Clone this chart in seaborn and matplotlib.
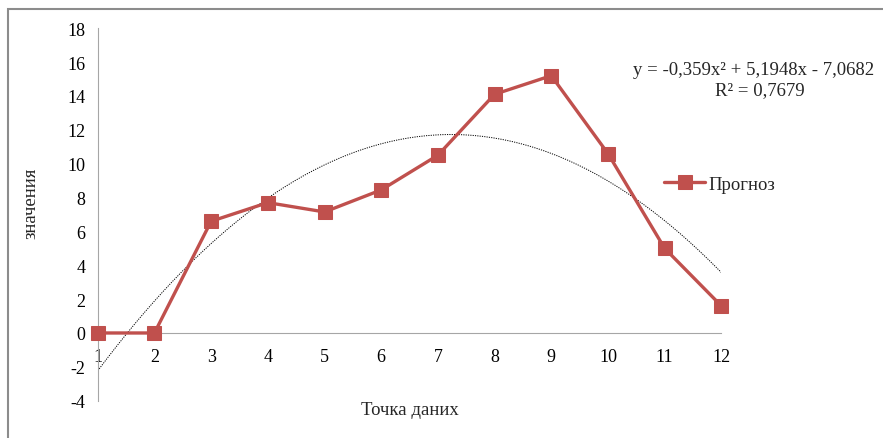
import matplotlib
matplotlib.use("Agg")
import matplotlib.pyplot as plt
from matplotlib.patches import Rectangle
import numpy as np
import pandas as pd
import seaborn as sns

points = [1, 2, 3, 4, 5, 6, 7, 8, 9, 10, 11, 12]
forecast = [0, 0, 6.6, 7.7, 7.15, 8.45, 10.5, 14.1, 15.2, 10.6, 5.0, 1.6]
trend_coef = [-0.359, 5.1948, -7.0682]  # quadratic trendline shown on the chart
y_ticks = [-4, -2, 0, 2, 4, 6, 8, 10, 12, 14, 16, 18]

red = "#C0504D"
axis_gray = "#A6A6A6"

sns.set_style("white")
plt.rcParams["font.family"] = ["Liberation Serif", "DejaVu Serif"]
plt.rcParams["axes.unicode_minus"] = False

df = pd.DataFrame({"x": points, "y": forecast})

fig = plt.figure(figsize=(8.83, 4.39), dpi=100)
ax = fig.add_axes([0.1107, 0.085, 0.7062, 0.8483])

# dotted polynomial trendline
xs = np.linspace(points[0], points[-1], 200)
ax.plot(xs, np.polyval(trend_coef, xs), color="black", lw=0.7, ls=(0, (1.2, 1.2)), zorder=2)

sns.lineplot(data=df, x="x", y="y", ax=ax, color=red, lw=2.4, marker="s",
             markersize=10.5, markeredgecolor=red, label="Прогноз", zorder=3,
             clip_on=False)

ax.set_xlim(1, 12)
ax.set_ylim(-4, 18)
ax.set_xticks(points)
ax.set_yticks(y_ticks)

for s in ["top", "right"]:
    ax.spines[s].set_visible(False)
ax.spines["bottom"].set_position(("data", 0))
ax.spines["bottom"].set_color(axis_gray)
ax.spines["left"].set_color(axis_gray)
ax.tick_params(axis="both", colors=axis_gray, labelcolor="black", labelsize=13,
               length=4, width=0.8, direction="out")
ax.tick_params(axis="x", pad=7)
ax.tick_params(axis="y", pad=5)

ax.set_xlabel("")
ax.set_ylabel("")
fig.text(410 / 883, 1 - 411 / 439, "Точка даних", ha="center", va="center", fontsize=13.5)
fig.text(31 / 883, 1 - 203 / 439, "значения", ha="center", va="center", rotation=90, fontsize=13.5)

fig.text(633 / 883, 1 - 71 / 439, "y = -0,359x² + 5,1948x - 7,0682", ha="left", va="center", fontsize=13.5)
fig.text(760 / 883, 1 - 91 / 439, "R² = 0,7679", ha="center", va="center", fontsize=13.5)

ax.legend(loc="center left", bbox_to_anchor=(664 / 883, 1 - 185 / 439),
          bbox_transform=fig.transFigure, frameon=False, fontsize=13.5,
          handlelength=2.2, handletextpad=0.15, borderpad=0, borderaxespad=0)

fig.add_artist(Rectangle((8 / 883, -0.1), 1.2, 1.1 - 10 / 439, transform=fig.transFigure,
                         fill=False, edgecolor="#8C8C8C", lw=1.5))

fig.savefig("out.png", dpi=100)
